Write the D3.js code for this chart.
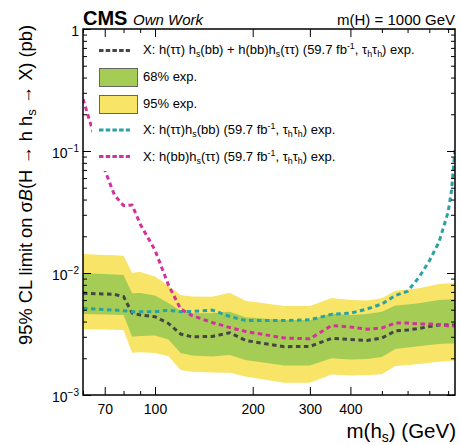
<!DOCTYPE html>
<html><head><meta charset="utf-8">
<script src="https://cdn.jsdelivr.net/npm/d3@7"></script>
<style>
body{margin:0;background:#fff;}
svg{display:block;}
text{font-family:"Liberation Sans",Arial,Helvetica,sans-serif;fill:#000;}
</style>
</head><body>
<svg id="c" width="460" height="445"></svg>
<script>
// ---- data ----
const masses = [60,70,75,80,85,90,100,110,120,130,150,170,190,250,300,350,400,450,500,550,600,650,700,750,800,820,840];
const band95Hi = [0.01431,0.01404,0.01395,0.01386,0.01006,0.01019,0.00936,0.00782,0.00660,0.00642,0.00639,0.00689,0.00593,0.00537,0.00537,0.00624,0.00601,0.00595,0.00620,0.00716,0.00732,0.00749,0.00782,0.00812,0.00820,0.00823,0.00828];
const band95Lo = [0.003455,0.003436,0.00342,0.00341,0.002222,0.002239,0.00221,0.002076,0.001603,0.001552,0.001529,0.001523,0.001418,0.001261,0.001261,0.001472,0.001445,0.001458,0.001478,0.001729,0.001762,0.001795,0.001836,0.001875,0.0019,0.001907,0.00191];
const band68Hi = [0.00994,0.00981,0.00972,0.00963,0.00682,0.00686,0.00654,0.00568,0.00488,0.00470,0.00467,0.00482,0.00433,0.00412,0.00412,0.00466,0.00453,0.00461,0.00482,0.00541,0.00552,0.00564,0.00584,0.00601,0.00606,0.00609,0.00609];
const band68Lo = [0.00461,0.00457,0.00455,0.00453,0.00300,0.00304,0.00307,0.00285,0.00221,0.00211,0.00207,0.00213,0.00194,0.001745,0.001745,0.00200,0.001954,0.001972,0.00205,0.00238,0.00245,0.00251,0.00257,0.00262,0.00264,0.00264,0.00264];
const expCombined = [0.00682,0.00673,0.00667,0.00640,0.00470,0.00453,0.00438,0.00386,0.00316,0.00300,0.00302,0.00324,0.00280,0.00249,0.00250,0.00291,0.00285,0.00280,0.00293,0.00335,0.00341,0.00351,0.00364,0.00375,0.00375,0.00375,0.00375];
const expTauTauBB = [0.00514,0.00502,0.00497,0.00491,0.00482,0.00482,0.00482,0.00496,0.00482,0.00484,0.00497,0.00440,0.00408,0.00408,0.00413,0.00459,0.00468,0.00507,0.00557,0.00654,0.00708,0.00919,0.01254,0.01795,0.0316,0.0479,0.102];
const expBBTauTau = [0.267,0.0699,0.0436,0.0357,0.0361,0.0252,0.0154,0.00797,0.00507,0.00448,0.00393,0.00357,0.00332,0.00293,0.00289,0.00371,0.00361,0.003455,0.00354,0.00389,0.00389,0.00382,0.00382,0.00378,0.00368,0.00368,0.00368];
const xMajorTicks = [70,100,200,300,400];
const xMinorTicks = [60,80,90,500,600,700,800];
const yMajorTicks = [0.001,0.01,0.1,1];
const yMinorTicks = [];
[0.001,0.01,0.1].forEach(d=>{for(let k=2;k<=9;k++) yMinorTicks.push(d*k);});

// ---- layout ----
const L=83,R=455,T=29,B=395;
const svg=d3.select("#c");
const x=d3.scaleLog().domain([60,840]).range([L,R]);
const y=d3.scaleLog().domain([0.001,1]).range([B,T]);

const colGreen="#a5cd55", colYellow="#f8e466";
const colBlack="#454545", colTeal="#2aa1a3", colMag="#d4309e";

svg.append("defs").append("clipPath").attr("id","clip")
  .append("rect").attr("x",L).attr("y",T).attr("width",R-L).attr("height",B-T);
const plot=svg.append("g").attr("clip-path","url(#clip)");

const rows=masses.map((m,i)=>({m,hi95:band95Hi[i],lo95:band95Lo[i],hi68:band68Hi[i],lo68:band68Lo[i],
  c:expCombined[i],t:expTauTauBB[i],b:expBBTauTau[i]}));

plot.append("path").datum(rows).attr("fill",colYellow)
  .attr("d",d3.area().x(d=>x(d.m)).y0(d=>y(d.lo95)).y1(d=>y(d.hi95)));
plot.append("path").datum(rows).attr("fill",colGreen)
  .attr("d",d3.area().x(d=>x(d.m)).y0(d=>y(d.lo68)).y1(d=>y(d.hi68)));

function drawLine(key,col){
  plot.append("path").datum(rows).attr("fill","none").attr("stroke",col)
    .attr("stroke-width",3).attr("stroke-dasharray","4.5,3.5")
    .attr("d",d3.line().x(d=>x(d.m)).y(d=>y(d[key])));
}
drawLine("c",colBlack);
drawLine("t",colTeal);
drawLine("b",colMag);

// ---- legend (white background hides curves beneath) ----
const lg=svg.append("g");
lg.append("rect").attr("x",92).attr("y",32).attr("width",345).attr("height",139).attr("fill","#fff");

function richText(g,xp,yp,segs,size){
  const t=g.append("text").attr("x",xp).attr("y",yp).attr("font-size",size);
  let shift=0;
  segs.forEach(([s,mode])=>{
    const sp=t.append("tspan").text(s);
    let target=0;
    if(mode==="sub"){target=3;sp.attr("font-size",size*0.68);}
    else if(mode==="sup"){target=-5;sp.attr("font-size",size*0.68);}
    if(target!==shift){sp.attr("dy",target-shift);shift=target;}
  });
  return t;
}
const fs=13;
const tail=[[" (59.7 fb"],["-1","sup"],[", τ"],["h","sub"],["τ"],["h","sub"],[") exp."]];
function sample(yy,col){
  lg.append("line").attr("x1",99).attr("x2",130).attr("y1",yy).attr("y2",yy)
    .attr("stroke",col).attr("stroke-width",3).attr("stroke-dasharray","4.5,2.2");
}
sample(50.5,colBlack);
richText(lg,143,54,[["X: h(ττ) h"],["s","sub"],["(bb) + h(bb)h"],["s","sub"],["(ττ)"]].concat(tail),fs);
lg.append("rect").attr("x",99.5).attr("y",68.5).attr("width",38).attr("height",18).attr("fill",colGreen).attr("stroke","#666").attr("stroke-width",1);
richText(lg,143,81,[["68% exp."]],fs);
lg.append("rect").attr("x",99.5).attr("y",95.5).attr("width",38).attr("height",18).attr("fill",colYellow).attr("stroke","#666").attr("stroke-width",1);
richText(lg,143,108,[["95% exp."]],fs);
sample(130,colTeal);
richText(lg,143,134,[["X: h(ττ)h"],["s","sub"],["(bb)"]].concat(tail),fs);
sample(156.5,colMag);
richText(lg,143,161,[["X: h(bb)h"],["s","sub"],["(ττ)"]].concat(tail),fs);

// ---- axes ----
function styleAxis(g){g.select(".domain").remove();g.selectAll("line").attr("stroke","#000").attr("stroke-width",1);}
const gxb=svg.append("g").attr("transform",`translate(0,${B})`)
  .call(d3.axisBottom(x).tickValues(xMajorTicks).tickSize(-8).tickSizeOuter(0).tickPadding(9).tickFormat(d3.format("d")));
styleAxis(gxb);
gxb.selectAll("text").attr("font-size",14).attr("font-family","Liberation Sans, Arial, sans-serif");
svg.append("g").attr("transform",`translate(0,${B})`)
  .call(d3.axisBottom(x).tickValues(xMinorTicks).tickSize(-4).tickSizeOuter(0).tickFormat("")).call(styleAxis);
svg.append("g").attr("transform",`translate(0,${T})`)
  .call(d3.axisTop(x).tickValues(xMajorTicks).tickSize(-8).tickSizeOuter(0).tickFormat("")).call(styleAxis);
svg.append("g").attr("transform",`translate(0,${T})`)
  .call(d3.axisTop(x).tickValues(xMinorTicks).tickSize(-4).tickSizeOuter(0).tickFormat("")).call(styleAxis);

const gyl=svg.append("g").attr("transform",`translate(${L},0)`)
  .call(d3.axisLeft(y).tickValues(yMajorTicks).tickSize(-8).tickSizeOuter(0).tickPadding(4).tickFormat(d=>String(d)));
styleAxis(gyl);
gyl.selectAll(".tick text").each(function(d){
  const t=d3.select(this).attr("font-size",14).attr("font-family","Liberation Sans, Arial, sans-serif").attr("dy","6.5px");
  const e=Math.round(Math.log10(d));
  t.text(null);
  if(e===0){t.text("1");}
  else{
    t.append("tspan").text("10");
    t.append("tspan").attr("font-size",10).attr("dy",-6).text("−"+(-e));
  }
});
svg.append("g").attr("transform",`translate(${L},0)`)
  .call(d3.axisLeft(y).tickValues(yMinorTicks).tickSize(-4).tickSizeOuter(0).tickFormat("")).call(styleAxis);
svg.append("g").attr("transform",`translate(${R},0)`)
  .call(d3.axisRight(y).tickValues(yMajorTicks).tickSize(-8).tickSizeOuter(0).tickFormat("")).call(styleAxis);
svg.append("g").attr("transform",`translate(${R},0)`)
  .call(d3.axisRight(y).tickValues(yMinorTicks).tickSize(-4).tickSizeOuter(0).tickFormat("")).call(styleAxis);

svg.append("rect").attr("x",L).attr("y",T).attr("width",R-L).attr("height",B-T)
  .attr("fill","none").attr("stroke","#000").attr("stroke-width",1.5);

// ---- titles ----
svg.append("text").attr("x",83).attr("y",25).attr("font-size",20).attr("font-weight","bold").text("CMS");
svg.append("text").attr("x",133).attr("y",25).attr("font-size",15).attr("font-style","italic").text("Own Work");
svg.append("text").attr("x",455).attr("y",25).attr("font-size",15).attr("text-anchor","end").text("m(H) = 1000 GeV");

const xt=svg.append("text").attr("x",456).attr("y",438).attr("font-size",20.5).attr("text-anchor","end");
xt.append("tspan").text("m(h");
xt.append("tspan").attr("font-size",14).attr("dy",4).text("s");
xt.append("tspan").attr("dy",-4).text(") (GeV)");

const yt=svg.append("text").attr("transform","translate(32,25) rotate(-90)").attr("font-size",18.3).attr("text-anchor","end");
yt.append("tspan").text("95% CL limit on σ");
yt.append("tspan").attr("font-style","italic").text("B");
yt.append("tspan").text("(H → h h");
yt.append("tspan").attr("font-size",13).attr("dy",4).text("s");
yt.append("tspan").attr("dy",-4).text(" → X) (pb)");
</script>
</body></html>
